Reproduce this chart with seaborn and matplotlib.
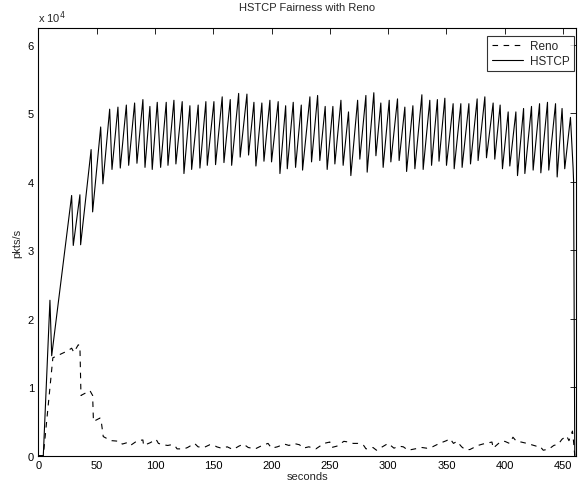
import pandas as pd
import matplotlib
matplotlib.use("Agg")
import matplotlib.pyplot as plt
import seaborn as sns

# %% Datos (valores en unidades de 1e4 pkts/s)

hstcp_t = [0, 4.3, 10, 11.5, 28.6, 30, 35.7, 36.3, 45.3, 46.6, 53.5, 55.4,
           61.2, 63.2, 68.3, 70.3, 75.5, 77.5, 82.6, 84.6, 89.7, 91.5,
           95.7, 97.7, 102, 104.9, 109.7, 111.2, 116.3, 118, 123.4, 124.9,
           130, 131.5, 137.1, 138.6, 143.7, 144.9, 150.6, 152, 157.7, 159.2,
           164.6, 165.8, 171.8, 173.1, 178.9, 180.3, 184.9, 186.6, 191.7, 193.5,
           198.6, 200, 205.7, 207.2, 212.1, 213.5, 218.6, 220.6, 225.5, 226.6,
           232.9, 234.3, 239.5, 241.4, 246, 247.7, 252.6, 254.3, 259.5, 261.4,
           266, 268, 273.8, 275.7, 280.9, 282, 287.7, 289.5, 293.7, 295.7,
           300.9, 302.3, 308, 309.4, 314.3, 315.8, 321.2, 322.9, 328.9, 330,
           335.7, 337.2, 342.2, 343.6, 348.6, 350, 355.7, 356.6, 362.3, 363.4,
           369.2, 370.6, 376.3, 377.1, 382.9, 384.3, 390, 391.4, 396, 398,
           402.9, 404.3, 409.5, 410.9, 416.1, 417.2, 422.9, 424.3, 429.8, 430.9,
           436.6, 437.7, 443.5, 444.9, 449.1, 451.4, 456.3, 458.6, 459, 460]
hstcp_v = [0, 0, 2.27, 1.46, 3.80, 3.07, 3.81, 3.08, 4.47, 3.56, 4.80, 3.97,
           5.06, 4.18, 5.09, 4.20, 5.12, 4.24, 5.15, 4.27, 5.20, 4.21,
           5.10, 4.18, 5.16, 4.21, 5.16, 4.24, 5.19, 4.26, 5.17, 4.12,
           5.11, 4.18, 5.12, 4.20, 5.17, 4.24, 5.17, 4.25, 5.24, 4.28,
           5.20, 4.24, 5.29, 4.36, 5.28, 4.39, 5.16, 4.23, 5.15, 4.30,
           5.19, 4.29, 5.17, 4.12, 5.11, 4.19, 5.16, 4.21, 5.12, 4.17,
           5.24, 4.29, 5.26, 4.31, 5.10, 4.18, 5.10, 4.26, 5.19, 4.24,
           5.02, 4.09, 5.19, 4.33, 5.26, 4.14, 5.30, 4.38, 5.15, 4.21,
           5.19, 4.29, 5.21, 4.31, 5.09, 4.15, 5.11, 4.19, 5.27, 4.18,
           5.19, 4.24, 5.20, 4.30, 5.22, 4.24, 5.14, 4.19, 5.14, 4.21,
           5.14, 4.26, 5.21, 4.31, 5.24, 4.35, 5.15, 4.33, 5.12, 4.19,
           5.02, 4.23, 5.02, 4.09, 5.07, 4.12, 5.10, 4.17, 5.14, 4.13,
           5.16, 4.17, 5.14, 4.07, 5.07, 4.19, 4.94, 4.19, 4.00, 0]

reno_t = [0, 4.3, 12.5, 20, 25, 28.6, 30.5, 34.3, 35.7, 36.6, 44.3, 46.6,
          47.3, 52.9, 54, 55.7, 60, 63, 70, 72, 76, 79, 85, 89.7, 90.3,
          96, 101, 103, 107, 111, 114, 117, 119, 125, 128, 134, 137, 142,
          147, 151, 153, 157, 162, 167, 172, 176, 180, 186, 192, 197, 200,
          205, 211, 215, 219, 224, 227, 232, 238, 245, 250, 251.5, 256, 262,
          266, 270, 274, 279, 281, 287, 290, 300, 305, 309, 313, 317, 323,
          329, 333, 338, 344, 350, 353, 356, 359, 363, 366, 370, 377, 381,
          389, 390, 396, 400, 404, 407, 410, 414, 419, 423, 427, 430, 433,
          438, 442, 446, 449, 453, 455, 458, 459, 460]
reno_v = [0, 0, 1.43, 1.49, 1.53, 1.57, 1.51, 1.62, 1.60, 0.88, 0.95, 0.88,
          0.50, 0.55, 0.50, 0.28, 0.24, 0.22, 0.21, 0.17, 0.19, 0.15, 0.22, 0.23, 0.15,
          0.19, 0.24, 0.18, 0.16, 0.15, 0.16, 0.15, 0.10, 0.10, 0.12, 0.18, 0.13, 0.12,
          0.16, 0.15, 0.13, 0.11, 0.13, 0.09, 0.14, 0.17, 0.12, 0.10, 0.15, 0.18, 0.11,
          0.13, 0.17, 0.15, 0.18, 0.16, 0.11, 0.13, 0.10, 0.18, 0.20, 0.12, 0.14, 0.21,
          0.20, 0.18, 0.18, 0.15, 0.10, 0.12, 0.08, 0.18, 0.11, 0.14, 0.13, 0.08, 0.10,
          0.12, 0.11, 0.13, 0.18, 0.22, 0.25, 0.18, 0.21, 0.13, 0.09, 0.09, 0.15, 0.17,
          0.20, 0.11, 0.20, 0.21, 0.18, 0.27, 0.21, 0.20, 0.18, 0.16, 0.14, 0.14, 0.08,
          0.10, 0.15, 0.17, 0.24, 0.29, 0.22, 0.36, 0.20, 0]

# %% Armado del DataFrame en formato largo

df = pd.concat([
    pd.DataFrame({"seconds": reno_t, "pkts": reno_v, "flujo": "Reno"}),
    pd.DataFrame({"seconds": hstcp_t, "pkts": hstcp_v, "flujo": "HSTCP"}),
], ignore_index=True)

# %% Grafico

sns.set_theme(style="white")
plt.rcParams["font.family"] = ["Liberation Sans", "DejaVu Sans"]

fig = plt.figure(figsize=(5.8, 4.89), dpi=100)
ax = fig.add_axes([0.066, 0.066, 0.927, 0.874])

sns.lineplot(data=df, x="seconds", y="pkts", hue="flujo", style="flujo",
             palette={"Reno": "black", "HSTCP": "black"},
             dashes={"Reno": (5, 5), "HSTCP": ""},
             estimator=None, sort=False, linewidth=0.8, ax=ax)

ax.set_xlim(0, 461)
ax.set_ylim(0, 6.24)
ax.set_xticks(range(0, 451, 50))
ax.set_yticks(range(0, 7))
ax.tick_params(direction="in", length=4, width=0.6, labelsize=8,
               top=True, right=True, colors="black", pad=3)
for s in ax.spines.values():
    s.set_color("black")
    s.set_linewidth(0.8)

ax.set_xlabel("seconds", fontsize=8, labelpad=1)
ax.set_ylabel("pkts/s", fontsize=8, labelpad=4)
ax.set_title("HSTCP Fairness with Reno", fontsize=8, pad=13)
ax.text(0.0, 1.008, r"x 10$^4$", transform=ax.transAxes, fontsize=8,
        ha="left", va="bottom")

leg = ax.legend(loc="upper right", bbox_to_anchor=(0.997, 0.983),
                fontsize=8.5, frameon=True, fancybox=False,
                handlelength=2.6, borderaxespad=0.0, borderpad=0.4,
                labelspacing=0.2, handletextpad=0.6, title=None)
leg.get_frame().set_edgecolor("black")
leg.get_frame().set_linewidth(0.8)

fig.savefig("out.png", dpi=100)
